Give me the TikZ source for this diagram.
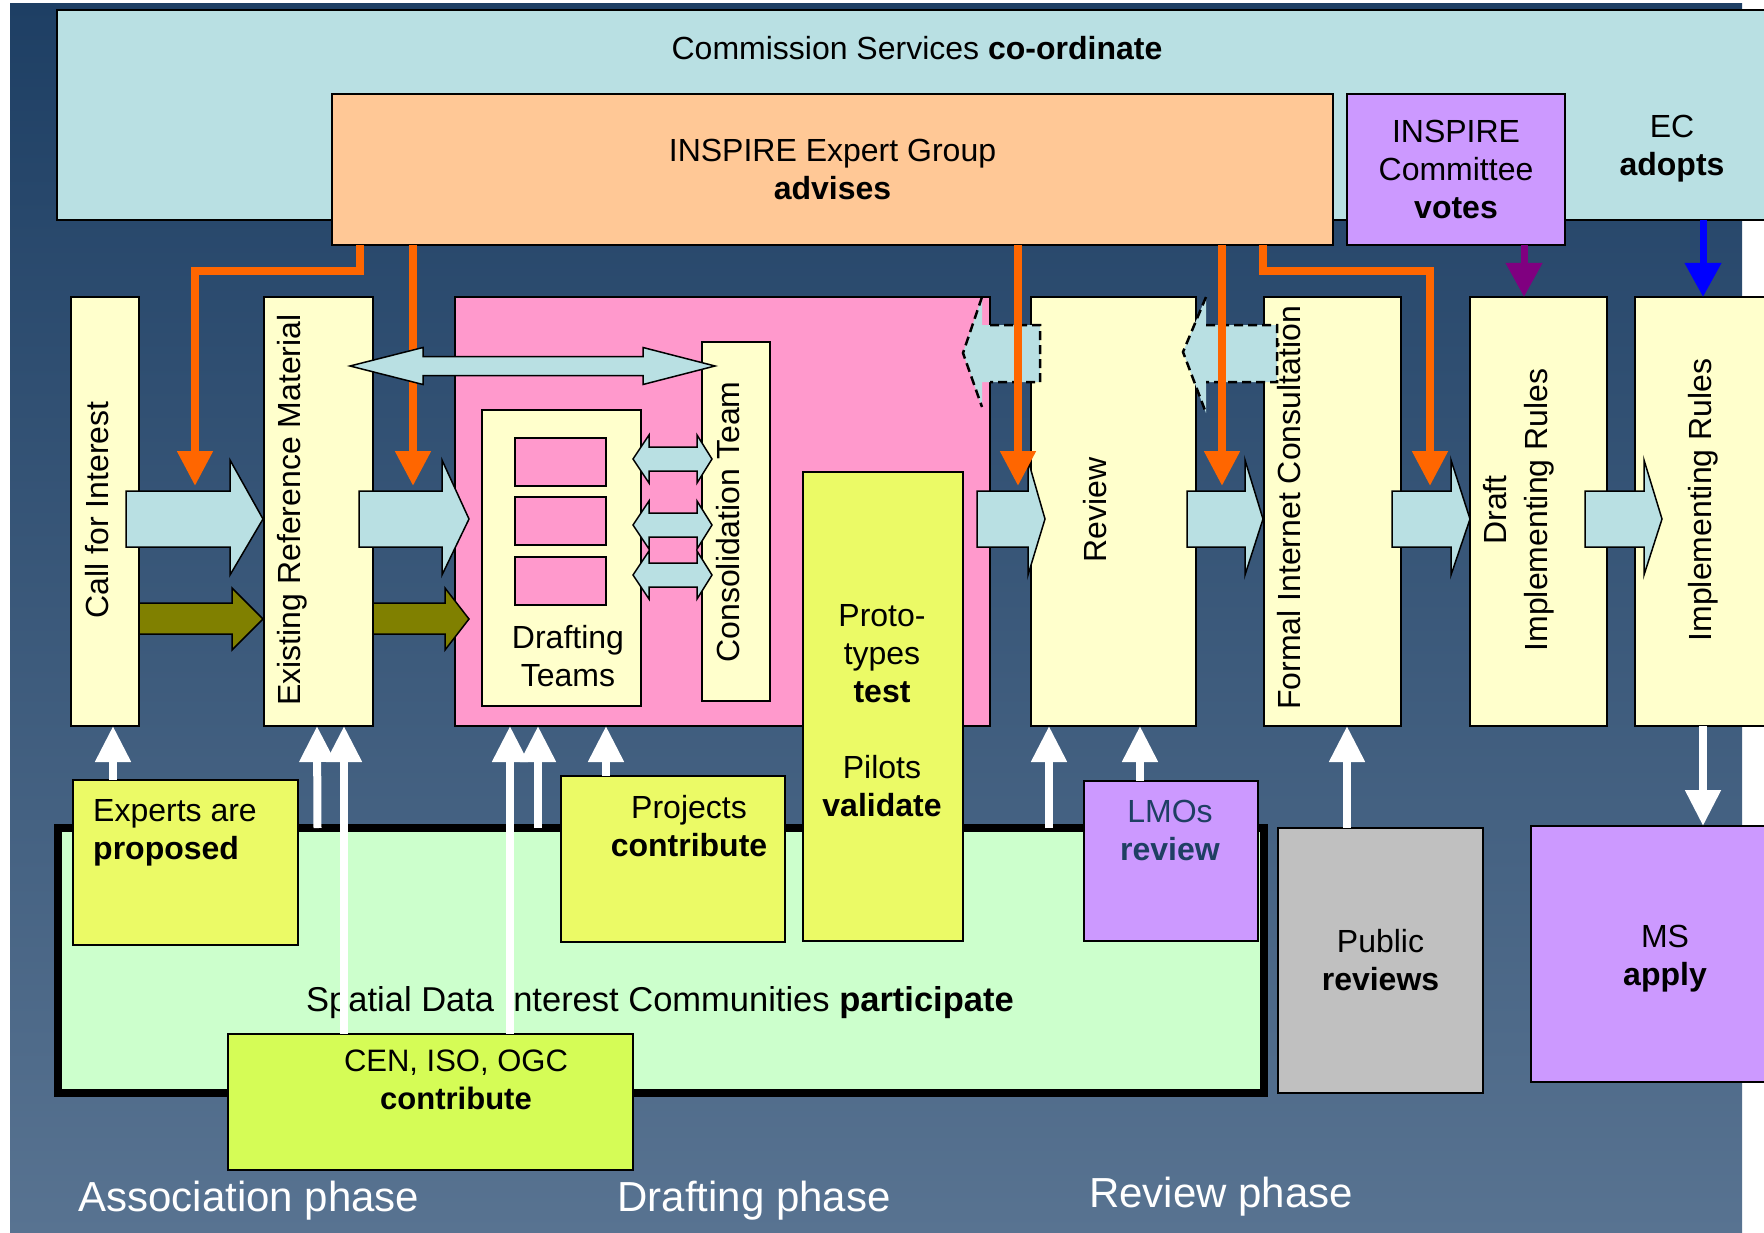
\documentclass[tikz,border=0pt]{standalone}
\usepackage{fontspec}
\setmainfont{Liberation Sans}
\usetikzlibrary{arrows.meta}

\definecolor{bgtop}{HTML}{1E3F64}
\definecolor{bgbot}{HTML}{587391}
\definecolor{csblue}{HTML}{B9E0E3}
\definecolor{expert}{HTML}{FFC896}
\definecolor{lilac}{HTML}{CC99FF}
\definecolor{cream}{HTML}{FFFFCC}
\definecolor{pinkbox}{HTML}{FF99CC}
\definecolor{lime}{HTML}{EBFA66}
\definecolor{limebright}{HTML}{D5FC56}
\definecolor{mint}{HTML}{CCFFCC}
\definecolor{greybox}{HTML}{C0C0C0}
\definecolor{orangearr}{HTML}{FF6600}
\definecolor{olivearr}{HTML}{808000}
\definecolor{purplearr}{HTML}{800080}
\definecolor{navytext}{HTML}{1F3F63}

\tikzset{
	box/.style={draw=black, line width=1.5pt, inner sep=0pt, outer sep=0pt, anchor=north west},
	txt/.style={font=\fontsize{32}{38}\selectfont, align=center, inner sep=0pt},
	vtxt/.style={txt, rotate=90},
	phase/.style={font=\fontsize{42}{50}\selectfont, text=white, inner sep=0pt},
	blockarr/.style={fill=csblue, draw=black, line width=1.5pt, line join=miter},
	dasharr/.style={draw=black, line width=2.5pt, dash pattern=on 9pt off 5pt},
	oarr/.style={draw=orangearr, line width=8pt, line join=miter, -{Triangle[width=34pt,length=35pt]}},
	parr/.style={draw=purplearr, line width=7pt, -{Triangle[width=35pt,length=34pt]}},
	barr/.style={draw=blue, line width=7pt, -{Triangle[width=35pt,length=34pt]}},
	warr/.style={draw=white, line width=8pt, -{Triangle[width=34pt,length=36pt]}}
}

\begin{document}
\begin{tikzpicture}[x=1pt, y=-1pt]
			\useasboundingbox (0,0) rectangle (1764,1233);
			\fill[white] (0,0) rectangle (1764,1233);
			\shade[top color=bgtop, bottom color=bgbot] (10,4) rectangle (1742,1233);

			\node[box, fill=csblue, minimum width=1733pt, minimum height=210pt] (cs) at (57,10) {};
			\node[txt] (cstext) at (917,48) {Commission Services \textbf{co-ordinate}};
			\node[box, txt, fill=expert, minimum width=1001pt, minimum height=151pt] (ieg) at (332,94) {INSPIRE Expert Group\\\textbf{advises}};
			\node[box, txt, fill=lilac, minimum width=218pt, minimum height=151pt] (com) at (1347,94) {INSPIRE\\Committee\\\textbf{votes}};
			\node[txt] (ec) at (1672,149) {EC\\\textbf{adopts}};

			\node[box, fill=cream, minimum width=68pt, minimum height=429pt] (call) at (71,297) {};
			\node[box, fill=cream, minimum width=109pt, minimum height=429pt] (erm) at (264,297) {};
			\node[box, fill=pinkbox, minimum width=535pt, minimum height=429pt] (draft) at (455,297) {};
			\node[box, fill=cream, minimum width=159pt, minimum height=296pt] (dteams) at (482,410) {};
			\foreach \y [count=\i] in {438,497,557}
				\node[box, fill=pinkbox, minimum width=91pt, minimum height=48pt] (team\i) at (515,\y) {};
			\node[box, fill=cream, minimum width=68pt, minimum height=359pt] (cons) at (702,342) {};
			\node[box, fill=cream, minimum width=165pt, minimum height=429pt] (review) at (1031,297) {};
			\node[box, fill=cream, minimum width=137pt, minimum height=429pt] (formal) at (1264,297) {};
			\node[box, fill=cream, minimum width=137pt, minimum height=429pt] (dir) at (1470,297) {};
			\node[box, fill=cream, minimum width=160pt, minimum height=429pt] (ir) at (1635,297) {};

			\node[vtxt] (calltext) at (97,510) {Call for Interest};
			\node[vtxt] (ermtext) at (292,510) {Existing Reference Material};
			\node[txt] (dteamstext) at (568,656) {Drafting\\Teams};
			\node[vtxt] (constext) at (728,522) {Consolidation Team};
			\node[vtxt] (reviewtext) at (1095,510) {Review};
			\node[vtxt] (formaltext) at (1289,508) {Formal Internet Consultation};
			\node[vtxt, font=\fontsize{32}{41}\selectfont] (dirtext) at (1519,510) {Draft\\Implementing Rules};
			\node[vtxt] (irtext) at (1703,500) {Implementing Rules};

			\node[box, fill=mint, line width=8pt, minimum width=1205.5pt, minimum height=265pt] (sdic) at (58,828) {};
			\node[txt, font=\fontsize{34.5}{38}\selectfont] (sdictext) at (660,1003) {Spatial Data Interest Communities \textbf{participate}};
			\node[box, fill=lime, minimum width=225pt, minimum height=165pt] (experts) at (73,780) {};
			\node[txt, anchor=north west, align=left] (expertstext) at (93,799) {Experts are\\\textbf{proposed}};
			\node[box, fill=lime, minimum width=224pt, minimum height=166pt] (projects) at (561,776) {};
			\node[txt, anchor=north] (projectstext) at (689,795) {Projects\\\textbf{contribute}};
			\node[box, fill=lime, minimum width=160pt, minimum height=469pt] (proto) at (803,472) {};
			\node[txt] (prototext) at (882,711) {Proto-\\types\\\textbf{test}\\[38pt]Pilots\\\textbf{validate}};
			\node[box, fill=limebright, minimum width=405pt, minimum height=136pt] (cen) at (228,1034) {};
			\node[txt, anchor=north, font=\fontsize{31}{38}\selectfont] (centext) at (456,1050) {CEN, ISO, OGC\\\textbf{contribute}};
			\node[box, fill=lilac, minimum width=174pt, minimum height=160pt] (lmo) at (1084,781) {};
			\node[txt, anchor=north, text=navytext] (lmotext) at (1170,800) {LMOs\\\textbf{review}};
			\node[box, txt, fill=greybox, minimum width=205pt, minimum height=265pt] (pub) at (1278,828) {Public\\\textbf{reviews}};
			\node[box, fill=lilac, minimum width=268pt, minimum height=256pt] (ms) at (1531,826) {};
			\node[txt] (mstext) at (1665,959) {MS\\\textbf{apply}};

			\node[phase] (assoc) at (249,1201) {Association phase};
			\node[phase] (drafting) at (754,1201) {Drafting phase};
			\node[phase] (reviewph) at (1221,1197) {Review phase};

			\foreach \a/\b/\c in {126/230/263, 359/442/469, 977/1028/1045, 1187/1245/1263, 1392/1451/1470, 1585/1644/1662}
				\draw[blockarr] (\a,491) -- (\b,491) -- (\b,460) -- (\c,519) -- (\b,575) -- (\b,547) -- (\a,547) -- cycle;
			\foreach \a/\b/\c in {139/232/263, 373/445/469}
				\draw[blockarr, fill=olivearr] (\a,603) -- (\b,603) -- (\b,588) -- (\c,619) -- (\b,650) -- (\b,634) -- (\a,634) -- cycle;
			\foreach \y in {459,525,575}
				\draw[blockarr] (633,\y) -- (649,\y-24) -- (649,\y-12) -- (697,\y-12) -- (697,\y-24) -- (712,\y) -- (697,\y+24) -- (697,\y+12) -- (649,\y+12) -- (649,\y+24) -- cycle;

			\fill[csblue] (1040,325) -- (982,325) -- (982,297) -- (963,353) -- (982,407) -- (982,382) -- (1040,382) -- cycle;
			\draw[dasharr] (982,297) -- (963,353) -- (982,407) (990,325) -- (1040,325) -- (1040,382) -- (990,382);
			\fill[csblue] (1277,325) -- (1206,325) -- (1206,297) -- (1183,352) -- (1206,413) -- (1206,382) -- (1277,382) -- cycle;
			\draw[dasharr] (1206,297) -- (1183,352) -- (1206,413) (1206,325) -- (1277,325) -- (1277,382) -- (1206,382);

			\coordinate (o1) at (195,486);
			\coordinate (o2) at (413,486);
			\coordinate (o3) at (1018,486);
			\coordinate (o4) at (1222,486);
			\coordinate (o5) at (1430,486);
			\draw[oarr] ([xshift=28pt]ieg.south west) -- ++(0,26) -| (o1);
			\draw[oarr] ([xshift=-70pt]ieg.south east) -- ++(0,26) -| (o5);
			\foreach \o in {o2,o3,o4}
				\draw[oarr] (\o |- ieg.south) -- (\o);
			\draw[parr] ([xshift=68pt]com.south) -- ([xshift=-14.5pt]dir.north);
			\draw[barr] ([xshift=-87pt]cs.south east) -- ([xshift=68pt]ir.north west);

			\draw[blockarr] (350,366) -- (423,347.5) -- (423,356.5) -- (643,356.5) -- (643,347.5) -- (715,366) -- (643,384.5) -- (643,375.5) -- (423,375.5) -- (423,384.5) -- cycle;

			\draw[warr] ([xshift=40pt]experts.north west) -- ([xshift=42pt]call.south west);
			\draw[warr] ([xshift=259.5pt]sdic.north west) -- ([xshift=53pt]erm.south west);
			\draw[warr] ([xshift=116pt]cen.north west) -- ([xshift=80pt]erm.south west);
			\draw[warr] ([xshift=282pt]cen.north west) -- ([xshift=55pt]draft.south west);
			\draw[warr] ([xshift=480pt]sdic.north west) -- ([xshift=83pt]draft.south west);
			\draw[warr] ([xshift=45pt]projects.north west) -- ([xshift=151pt]draft.south west);
			\draw[warr] ([xshift=991pt]sdic.north west) -- ([xshift=18pt]review.south west);
			\draw[warr] ([xshift=56pt]lmo.north west) -- ([xshift=109pt]review.south west);
			\draw[warr] ([xshift=69pt]pub.north west) -- ([xshift=83pt]formal.south west);
			\draw[warr] ([xshift=68pt]ir.south west) -- ([xshift=172pt]ms.north west);
\end{tikzpicture}
\end{document}
